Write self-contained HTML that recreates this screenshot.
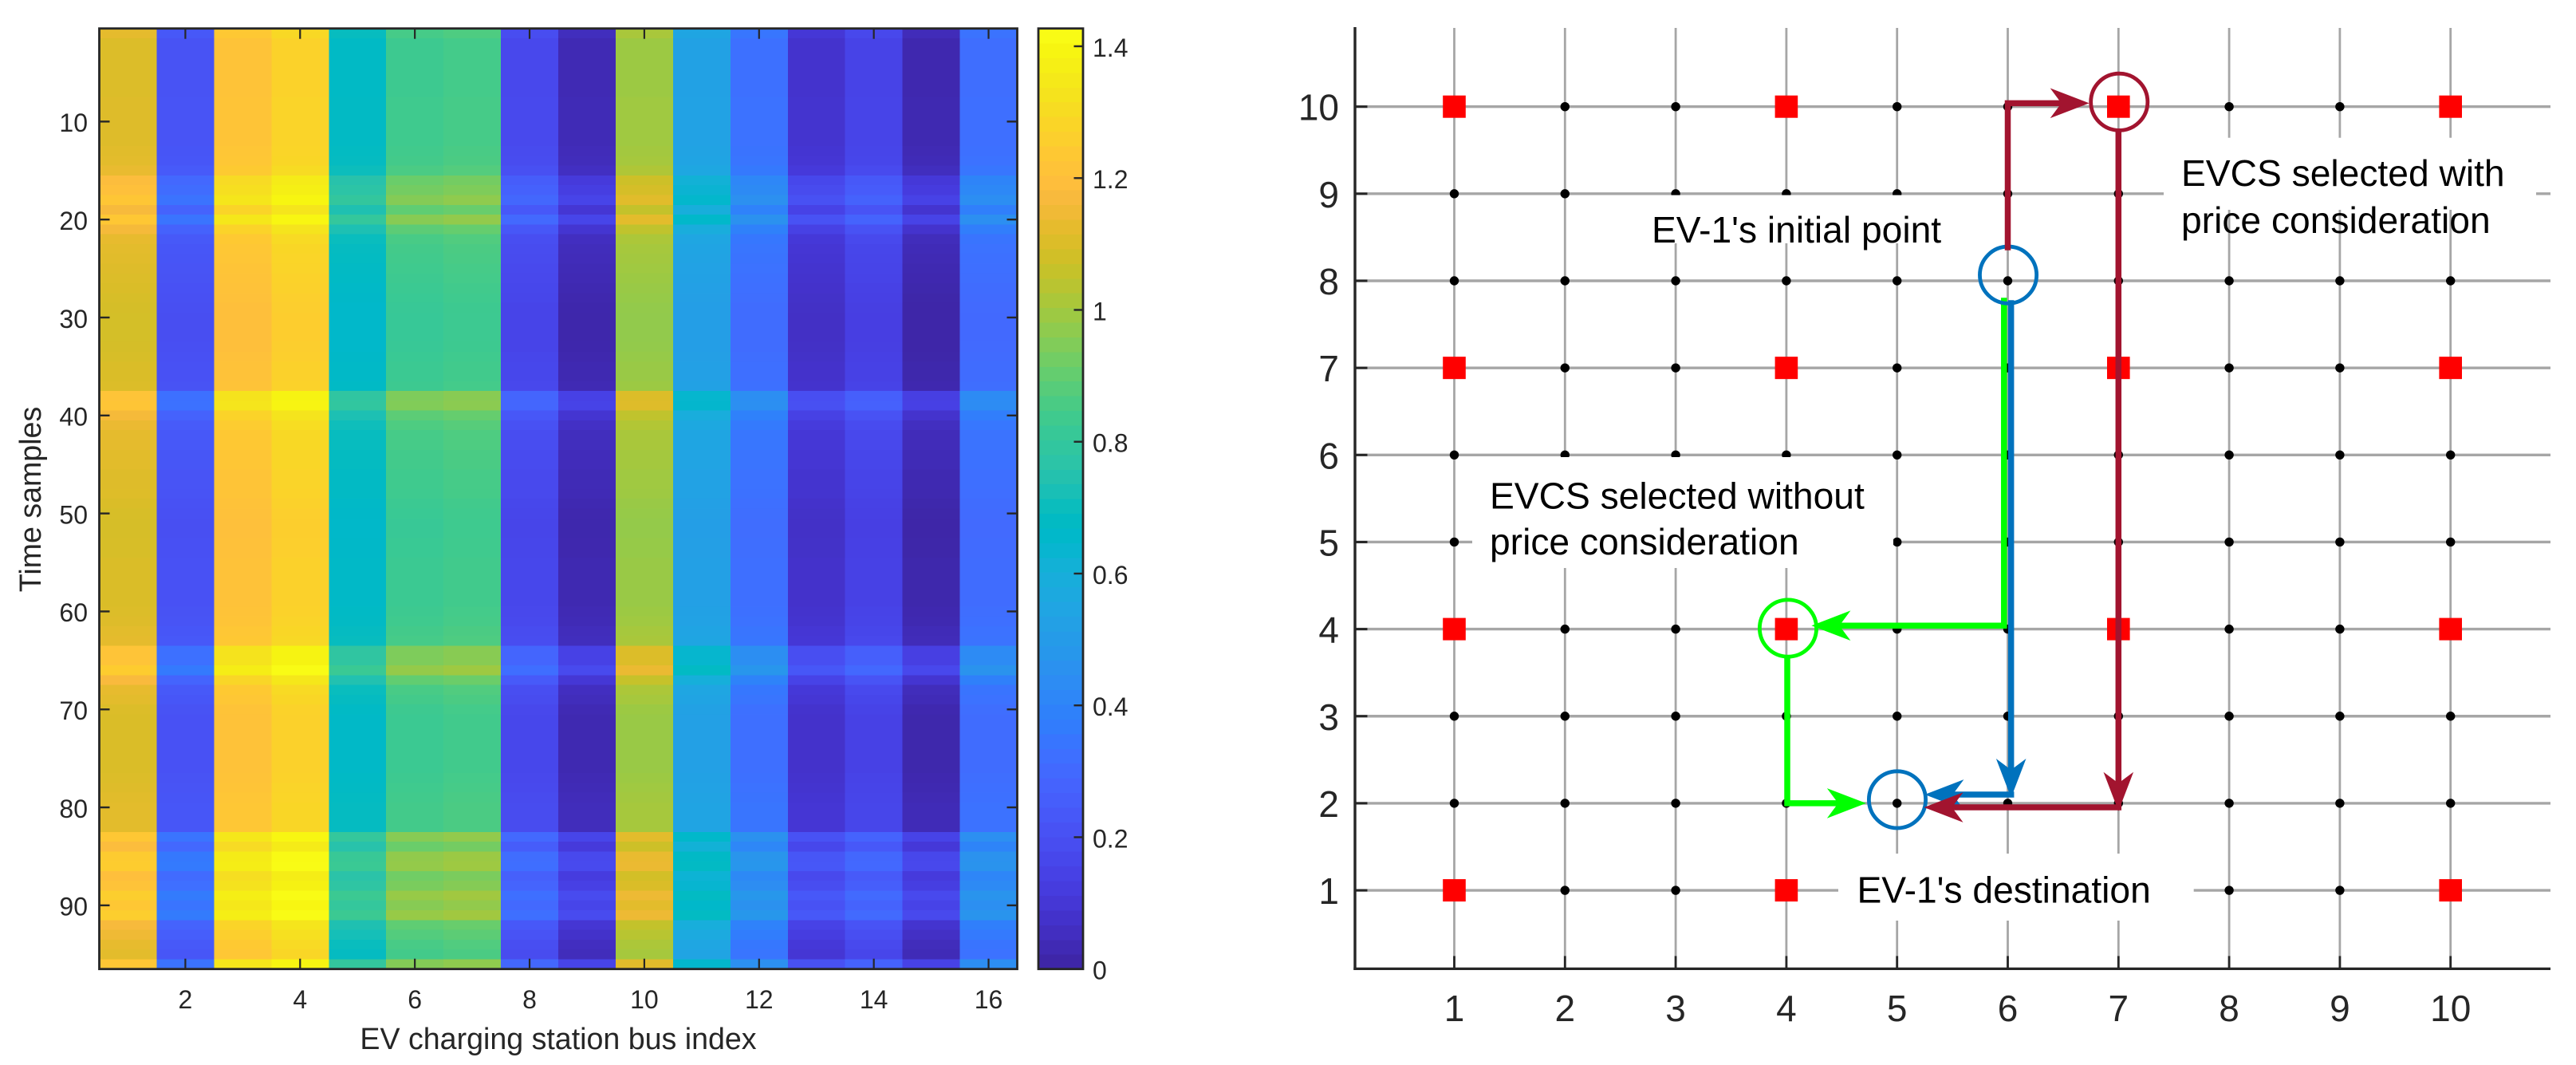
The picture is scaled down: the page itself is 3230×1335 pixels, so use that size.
<!DOCTYPE html>
<html lang="en">
<head>
<meta charset="utf-8">
<title>EV charging heatmap and route grid</title>
<style>
html,body{margin:0;padding:0;background:#fff;}
svg{display:block;}
text{font-family:"Liberation Sans",Arial,sans-serif;}
</style>
</head>
<body>
<svg xmlns="http://www.w3.org/2000/svg" width="3230" height="1335" viewBox="0 0 3230 1335">
  <g id="heat-cells" shape-rendering="crispEdges"></g>
  <g id="heat-axes"></g>
  <rect x="124.5" y="35.7" width="1151" height="1179" fill="none" stroke="#262626" stroke-width="2.8"/>
  <text x="700" y="1315" font-size="37.6" fill="#262626" text-anchor="middle">EV charging station bus index</text>
  <text transform="translate(51,626) rotate(-90)" font-size="37.6" fill="#262626" text-anchor="middle">Time samples</text>
  <g id="colorbar"></g>

  <g id="grid"></g>
  <g id="nodes"></g>
  <g id="stations"></g>

  <rect x="2049" y="244.6" width="409" height="60.4" fill="#fff"/>
  <text x="2071" y="304" font-size="46.2" fill="#000">EV-1's initial point</text>

  <rect x="2713" y="172.7" width="467" height="90.3" fill="#fff"/>
  <text x="2735" y="233" font-size="46.2" fill="#000">EVCS selected with</text>
  <text x="2735" y="292" font-size="46.2" fill="#000">price consideration</text>

  <rect x="1846" y="573" width="528" height="139" fill="#fff"/>
  <text x="1868" y="637.3" font-size="46.2" fill="#000">EVCS selected without</text>
  <text x="1868" y="695" font-size="46.2" fill="#000">price consideration</text>

  <rect x="2305" y="1070" width="445.7" height="84" fill="#fff"/>
  <text x="2328.5" y="1131.7" font-size="46.2" fill="#000">EV-1's destination</text>

  <g id="routes"></g>
  <g id="route-axes"></g>
</svg>

<script>
/* ---------- heatmap data ---------- */
const heatColumns = [1,2,3,4,5,6,7,8,9,10,11,12,13,14,15,16];
const heatColumnBase = [1.105,0.2,1.218,1.275,0.668,0.827,0.843,0.158,0.016,0.99,0.521,0.317,0.068,0.136,0.007,0.306];
const heatRowOffset = [
  0.025,0.005,0.005,0.005,0.005,0.005,0.005,0.01,0.01,0.01,0.01,0.01,
  0.015,0.02,0.035,0.09,0.105,0.13,0.07,0.135,0.065,0.03,0.02,0.015,
  0.01,0.005,0,-0.005,-0.01,-0.012,-0.012,-0.012,-0.01,-0.005,0,0,
  0.005,0.12,0.125,0.065,0.04,0.025,0.025,0.018,0.018,0.01,0.01,0.008,
  0,-0.005,-0.008,-0.008,-0.005,-0.005,0,0,0,0,0,0.005,
  0.01,0.02,0.025,0.12,0.12,0.155,0.075,0.03,0.02,0.005,0,0,
  0,0,0,0,0.005,0.01,0.015,0.02,0.02,0.02,0.135,0.09,
  0.15,0.155,0.1,0.115,0.16,0.135,0.16,0.07,0.05,0.03,0.02,0.13
];
const heatXTicks = [2,4,6,8,10,12,14,16];
const heatYTicks = [10,20,30,40,50,60,70,80,90];
const colorbarTicks = [0,0.2,0.4,0.6,0.8,1,1.2,1.4];
const colorMax = 1.427;
const parula = [
[0.2422,0.1504,0.6603],[0.2504,0.1650,0.7076],[0.2578,0.1818,0.7511],[0.2647,0.1978,0.7952],
[0.2706,0.2147,0.8364],[0.2751,0.2342,0.8710],[0.2783,0.2559,0.8991],[0.2803,0.2782,0.9221],
[0.2813,0.3006,0.9414],[0.2810,0.3228,0.9579],[0.2795,0.3447,0.9717],[0.2760,0.3667,0.9829],
[0.2699,0.3892,0.9906],[0.2602,0.4123,0.9952],[0.2440,0.4358,0.9988],[0.2206,0.4603,0.9973],
[0.1963,0.4847,0.9892],[0.1834,0.5074,0.9798],[0.1786,0.5289,0.9682],[0.1764,0.5499,0.9520],
[0.1687,0.5703,0.9359],[0.1540,0.5902,0.9218],[0.1460,0.6091,0.9079],[0.1380,0.6276,0.8973],
[0.1248,0.6459,0.8883],[0.1113,0.6635,0.8763],[0.0952,0.6798,0.8598],[0.0689,0.6948,0.8394],
[0.0297,0.7082,0.8163],[0.0036,0.7203,0.7917],[0.0067,0.7312,0.7660],[0.0433,0.7411,0.7394],
[0.0964,0.7500,0.7120],[0.1408,0.7584,0.6842],[0.1717,0.7670,0.6554],[0.1938,0.7758,0.6251],
[0.2161,0.7843,0.5923],[0.2470,0.7918,0.5567],[0.2906,0.7973,0.5188],[0.3406,0.8008,0.4789],
[0.3909,0.8029,0.4354],[0.4456,0.8024,0.3909],[0.5044,0.7993,0.3480],[0.5616,0.7942,0.3045],
[0.6174,0.7876,0.2612],[0.6720,0.7793,0.2227],[0.7242,0.7698,0.1910],[0.7738,0.7598,0.1646],
[0.8203,0.7498,0.1535],[0.8634,0.7406,0.1596],[0.9035,0.7330,0.1774],[0.9393,0.7288,0.2100],
[0.9728,0.7298,0.2394],[0.9956,0.7434,0.2371],[0.9970,0.7659,0.2199],[0.9952,0.7861,0.1990],
[0.9892,0.8110,0.1767],[0.9786,0.8362,0.1540],[0.9676,0.8639,0.1343],[0.9610,0.8903,0.1152],
[0.9597,0.9135,0.0964],[0.9628,0.9373,0.0814],[0.9691,0.9606,0.0661],[0.9769,0.9839,0.0805]
];

/* ---------- route grid data ---------- */
const gridXTicks = [1,2,3,4,5,6,7,8,9,10];
const gridYTicks = [1,2,3,4,5,6,7,8,9,10];
const stationPoints = [
  [1,10],[4,10],[7,10],[10,10],[1,7],[4,7],[7,7],[10,7],
  [1,4],[4,4],[7,4],[10,4],[1,1],[4,1],[7,1],[10,1]
];
const greenRouteToStation = [[5.966,7.771],[5.966,4.04],[4.227,4.04]];
const greenRouteToDestination = [[4.008,3.66],[4.008,2.0],[4.72,2.0]];
const blueRouteDown = [[6.03,7.744],[6.03,2.063]];
const blueRouteToDestination = [[6.03,2.1],[5.25,2.1]];
const redRouteToStation = [[6,8.385],[6,10.04],[6.736,10.04]];
const redRouteDown = [[7,9.713],[7,1.91]];
const redRouteToDestination = [[7,1.953],[5.244,1.953]];
const initialPointCircle = [6.004,8.067];
const destinationCircle = [5.002,2.041];
const stationNoPriceCircle = [4.015,4.01];
const stationPriceCircle = [7.007,10.054];

/* ---------- helpers ---------- */
const SVGNS = 'http://www.w3.org/2000/svg';
const INK = '#262626';
function make(tag, attrs, parent, txt) {
  const el = document.createElementNS(SVGNS, tag);
  for (const k in attrs) el.setAttribute(k, attrs[k]);
  if (txt !== undefined) el.textContent = txt;
  parent.appendChild(el);
  return el;
}
/* heatmap axes */
const HEAT = {left:124.5, right:1275.5, top:35.7, bottom:1214.7};
const heatX = c => HEAT.left + (c - 0.5) * (HEAT.right - HEAT.left) / heatColumns.length;
const heatY = r => HEAT.top + (r - 0.5) * (HEAT.bottom - HEAT.top) / heatRowOffset.length;
const BAR = {left:1302, right:1358, top:35.7, bottom:1214.7};
const barY = v => BAR.bottom - (v / colorMax) * (BAR.bottom - BAR.top);
/* grid axes */
const gridX = v => 1823.5 + (v - 1) * 138.8;
const gridY = v => 133.7 + (10 - v) * 109.15;
const GRID = {left:1699, right:3198, top:35, bottom:1214.4};

function colorOf(v) {
  const t = Math.max(0, Math.min(1, v / colorMax)) * (parula.length - 1);
  const i = Math.min(parula.length - 2, Math.floor(t));
  const f = t - i;
  const ch = n => Math.round(255 * (parula[i][n] * (1 - f) + parula[i + 1][n] * f));
  return 'rgb(' + ch(0) + ',' + ch(1) + ',' + ch(2) + ')';
}

/* ---------- heatmap ---------- */
const cellsG = document.getElementById('heat-cells');
heatRowOffset.forEach((offset, r) => {
  heatColumnBase.forEach((base, c) => {
    const x0 = heatX(c + 0.5), x1 = heatX(c + 1.5);
    const y0 = heatY(r + 0.5), y1 = heatY(r + 1.5);
    const cell = make('rect', {x:x0, y:y0, width:x1 - x0 + 0.3, height:y1 - y0 + 0.3, fill:colorOf(base + offset)}, cellsG);
    
    
  });
});

const heatAxes = document.getElementById('heat-axes');
heatXTicks.forEach(v => {
  const x = heatX(v);
  const topTick = make('line', {x1:x, x2:x, y1:HEAT.top, y2:HEAT.top + 13, stroke:INK, 'stroke-width':2.2}, heatAxes);
  
  
  const bottomTick = make('line', {x1:x, x2:x, y1:HEAT.bottom, y2:HEAT.bottom - 13, stroke:INK, 'stroke-width':2.2}, heatAxes);
  
  
  const label = make('text', {x:x, y:1264, 'font-size':32, fill:INK, 'text-anchor':'middle'}, heatAxes, String(v));
  
  
});
heatYTicks.forEach(v => {
  const y = heatY(v);
  const leftTick = make('line', {x1:HEAT.left, x2:HEAT.left + 13, y1:y, y2:y, stroke:INK, 'stroke-width':2.4}, heatAxes);
  
  
  const rightTick = make('line', {x1:HEAT.right, x2:HEAT.right - 13, y1:y, y2:y, stroke:INK, 'stroke-width':2.4}, heatAxes);
  
  
  const label = make('text', {x:110, y:y + 12.8, 'font-size':32, fill:INK, 'text-anchor':'end'}, heatAxes, String(v));
  
  
});

/* ---------- colorbar ---------- */
const barG = document.getElementById('colorbar');
parula.forEach((rgb, i) => {
  const v0 = colorMax * i / parula.length, v1 = colorMax * (i + 1) / parula.length;
  const band = make('rect', {x:BAR.left, y:barY(v1), width:BAR.right - BAR.left, height:barY(v0) - barY(v1) + 0.4,
    fill:'rgb(' + rgb.map(n => Math.round(n * 255)).join(',') + ')', 'shape-rendering':'crispEdges'}, barG);
  
  
});
const barFrame = make('rect', {x:BAR.left, y:BAR.top, width:BAR.right - BAR.left, height:BAR.bottom - BAR.top, fill:'none', stroke:INK, 'stroke-width':2.8}, barG);


colorbarTicks.forEach(v => {
  const y = barY(v);
  const tick = make('line', {x1:BAR.right, x2:BAR.right - 11.5, y1:y, y2:y, stroke:INK, 'stroke-width':2.4}, barG);
  
  
  const label = make('text', {x:1370, y:y + 13, 'font-size':32, fill:INK}, barG, String(v));
  
  
});

/* ---------- road grid ---------- */
const gridG = document.getElementById('grid');
gridYTicks.forEach(v => {
  const l = make('line', {x1:GRID.left, x2:GRID.right, y1:gridY(v), y2:gridY(v), stroke:'#a6a6a6', 'stroke-width':3.4}, gridG);
  
  
});
gridXTicks.forEach(v => {
  const l = make('line', {x1:gridX(v), x2:gridX(v), y1:GRID.top, y2:GRID.bottom, stroke:'#a6a6a6', 'stroke-width':2.8}, gridG);
  
  
});

const isStation = (x, y) => stationPoints.some(p => p[0] === x && p[1] === y);
const nodesG = document.getElementById('nodes');
gridXTicks.forEach(x => {
  gridYTicks.forEach(y => {
    if (isStation(x, y)) return;
    const dot = make('circle', {cx:gridX(x), cy:gridY(y), r:5.7, fill:'#000'}, nodesG);
    
    
  });
});
const stationsG = document.getElementById('stations');
stationPoints.forEach(p => {
  const sq = make('rect', {x:gridX(p[0]) - 14.3, y:gridY(p[1]) - 14, width:28.6, height:28, fill:'#ff0000'}, stationsG);
  
  
});

/* ---------- routes ---------- */
const routesG = document.getElementById('routes');
function drawRoute(points, color, width, name) {
  const px = points.map(p => [gridX(p[0]), gridY(p[1])]);
  const n = px.length - 1;
  const dx = px[n][0] - px[n - 1][0], dy = px[n][1] - px[n - 1][1];
  const len = Math.hypot(dx, dy), ux = dx / len, uy = dy / len;
  const tip = px[n];
  const shaft = px.slice(0, n).concat([[tip[0] - ux * 30, tip[1] - uy * 30]]);
  const line = make('polyline', {points:shaft.map(p => p.join(',')).join(' '), fill:'none', stroke:color, 'stroke-width':width, 'stroke-linejoin':'miter', 'stroke-linecap':'square'}, routesG);
  
  
  const back = 49, notch = 35, half = 18.8;
  const corner = s => [tip[0] - ux * back - uy * half * s, tip[1] - uy * back + ux * half * s];
  const a = corner(1), b = corner(-1);
  const mid = [tip[0] - ux * notch, tip[1] - uy * notch];
  const head = make('polygon', {points:[tip, a, mid, b].map(p => p.join(',')).join(' '), fill:color}, routesG);
  
  
}
function drawCircle(p, color, name) {
  const c = make('circle', {cx:gridX(p[0]), cy:gridY(p[1]), r:35.6, fill:'none', stroke:color, 'stroke-width':4.8}, routesG);
  
  
}
const GREEN = '#00ff00', BLUE = '#0072bd', RED = '#a2142f';
drawCircle(stationNoPriceCircle, GREEN, 'station-without-price-circle');
drawRoute(greenRouteToStation, GREEN, 7.5, 'green-route-to-station');
drawRoute(greenRouteToDestination, GREEN, 7.5, 'green-route-to-destination');
drawCircle(initialPointCircle, BLUE, 'initial-point-circle');
drawCircle(destinationCircle, BLUE, 'destination-circle');
drawRoute(blueRouteDown, BLUE, 7.5, 'blue-route-down');
drawRoute(blueRouteToDestination, BLUE, 7.5, 'blue-route-to-destination');
drawCircle(stationPriceCircle, RED, 'station-with-price-circle');
drawRoute(redRouteToStation, RED, 7.5, 'red-route-to-station');
drawRoute(redRouteDown, RED, 7.5, 'red-route-down');
drawRoute(redRouteToDestination, RED, 7.5, 'red-route-to-destination');

/* ---------- grid axes ---------- */
const axesG = document.getElementById('route-axes');
const yAxisLine = make('line', {x1:GRID.left, x2:GRID.left, y1:34, y2:1216, stroke:INK, 'stroke-width':3.4}, axesG);


const xAxisLine = make('line', {x1:GRID.left - 1.7, x2:GRID.right, y1:GRID.bottom, y2:GRID.bottom, stroke:INK, 'stroke-width':3.2}, axesG);


gridYTicks.forEach(v => {
  const y = gridY(v);
  const tick = make('line', {x1:GRID.left, x2:GRID.left + 15.5, y1:y, y2:y, stroke:INK, 'stroke-width':3}, axesG);
  
  
  const label = make('text', {x:1679, y:y + 17, 'font-size':46, fill:INK, 'text-anchor':'end'}, axesG, String(v));
  
  
});
gridXTicks.forEach(v => {
  const x = gridX(v);
  const tick = make('line', {x1:x, x2:x, y1:GRID.bottom, y2:GRID.bottom - 16, stroke:INK, 'stroke-width':2.8}, axesG);
  
  
  const label = make('text', {x:x, y:1280, 'font-size':46, fill:INK, 'text-anchor':'middle'}, axesG, String(v));
  
  
});
</script>
</body>
</html>
